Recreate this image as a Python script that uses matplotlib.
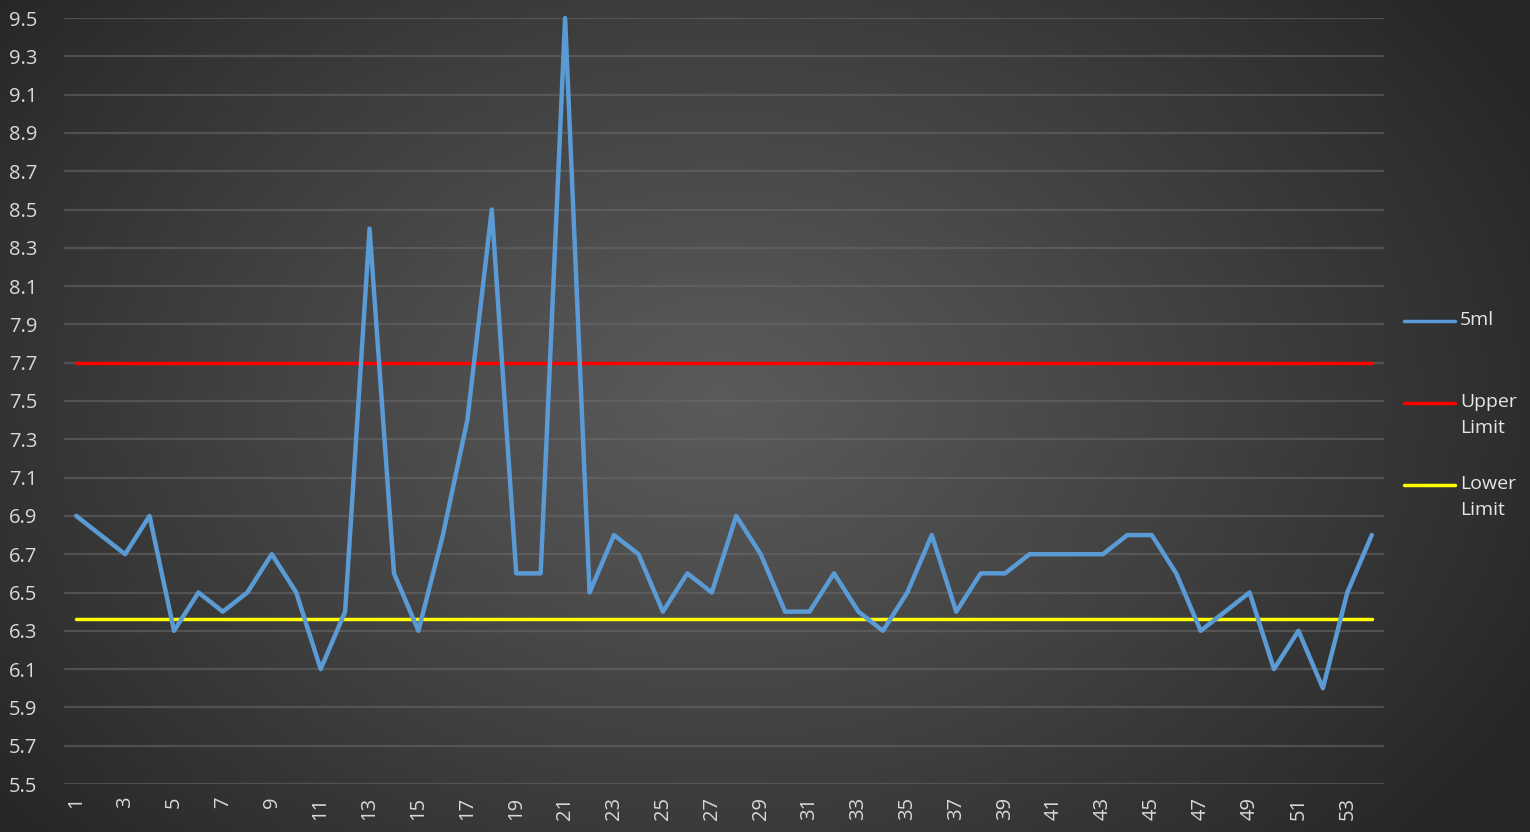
import numpy as np
import matplotlib
matplotlib.use("Agg")
import matplotlib.pyplot as plt
from matplotlib.lines import Line2D

# Sample index and measured volume
samples = list(range(1, 55))
volume_5ml = [6.9, 6.8, 6.7, 6.9, 6.3, 6.5, 6.4, 6.5, 6.7, 6.5,
              6.1, 6.4, 8.4, 6.6, 6.3, 6.8, 7.4, 8.5, 6.6, 6.6,
              9.5, 6.5, 6.8, 6.7, 6.4, 6.6, 6.5, 6.9, 6.7, 6.4,
              6.4, 6.6, 6.4, 6.3, 6.5, 6.8, 6.4, 6.6, 6.6, 6.7,
              6.7, 6.7, 6.7, 6.8, 6.8, 6.6, 6.3, 6.4, 6.5, 6.1,
              6.3, 6.0, 6.5, 6.8]
upper_limit = 7.7
lower_limit = 6.36

series_labels = ["5ml", "Upper\nLimit", "Lower\nLimit"]
y_ticks = [round(5.5 + 0.2 * i, 1) for i in range(21)]

W, H, DPI = 1530, 832, 100
fig = plt.figure(figsize=(W / DPI, H / DPI), dpi=DPI)

# Radial dark-grey background
bg = fig.add_axes([0, 0, 1, 1], zorder=-10)
yy, xx = np.mgrid[0:H, 0:W]
cx, cy = 720, 400
r = np.sqrt(((xx - cx) / 900.0) ** 2 + ((yy - cy) / 650.0) ** 2)
r = np.clip(r, 0, 1)
shade = 0.355 - (0.355 - 0.155) * r ** 1.1
bg.imshow(np.dstack([shade] * 3), aspect="auto", extent=[0, 1, 0, 1],
          interpolation="bilinear")
bg.set_axis_off()

left, right = 64 / W, 1384 / W
top, bottom = 1 - 18 / H, 1 - 784 / H
ax = fig.add_axes([left, bottom, right - left, top - bottom])
ax.patch.set_alpha(0)

x = np.arange(len(samples))
ax.plot(x, volume_5ml, color="#5B9BD5", lw=3.2, solid_joinstyle="round",
        solid_capstyle="round", zorder=4, clip_on=False)
ax.plot([x[0], x[-1]], [upper_limit, upper_limit], color="#FF0000", lw=2.5,
        solid_capstyle="round", zorder=3)
ax.plot([x[0], x[-1]], [lower_limit, lower_limit], color="#FFFF00", lw=2.5,
        solid_capstyle="round", zorder=3)

ax.set_xlim(-0.5, len(samples) - 0.5)
ax.set_ylim(5.5, 9.5)
ax.set_yticks(y_ticks)
ax.set_yticklabels([f"{v:.1f}" for v in y_ticks])
ax.set_xticks(x[::2])
ax.set_xticklabels([str(s) for s in samples[::2]], rotation=90)

for s in ax.spines.values():
    s.set_visible(False)
ax.grid(axis="y", color="#6a6a6a", lw=1.6, alpha=0.55, zorder=1)
ax.set_axisbelow(True)
ax.tick_params(axis="both", length=0, colors="#d9d9d9", labelsize=14.5)
ax.tick_params(axis="x", pad=9)
for t in ax.get_yticklabels() + ax.get_xticklabels():
    t.set_fontfamily(["Open Sans", "DejaVu Sans"])
    t.set_color("#d9d9d9")
for t in ax.get_yticklabels():
    t.set_horizontalalignment("left")
ax.tick_params(axis="y", pad=(64 - 9) * 72 / DPI)

# Legend on the right
legend_rows = [(321, "#5B9BD5"), (403, "#FF0000"), (485, "#FFFF00")]
for (py, col), lab in zip(legend_rows, series_labels):
    yf = 1 - py / H
    fig.add_artist(Line2D([1404 / W, 1455 / W], [yf, yf], color=col, lw=2.5,
                          solid_capstyle="round", transform=fig.transFigure))
    fig.text(1460 / W, yf + 0.0125, lab, color="#e6e6e6", fontsize=14,
             family=["Open Sans", "DejaVu Sans"], va="top", ha="left",
             linespacing=1.6)

fig.savefig("out.png", dpi=DPI)
